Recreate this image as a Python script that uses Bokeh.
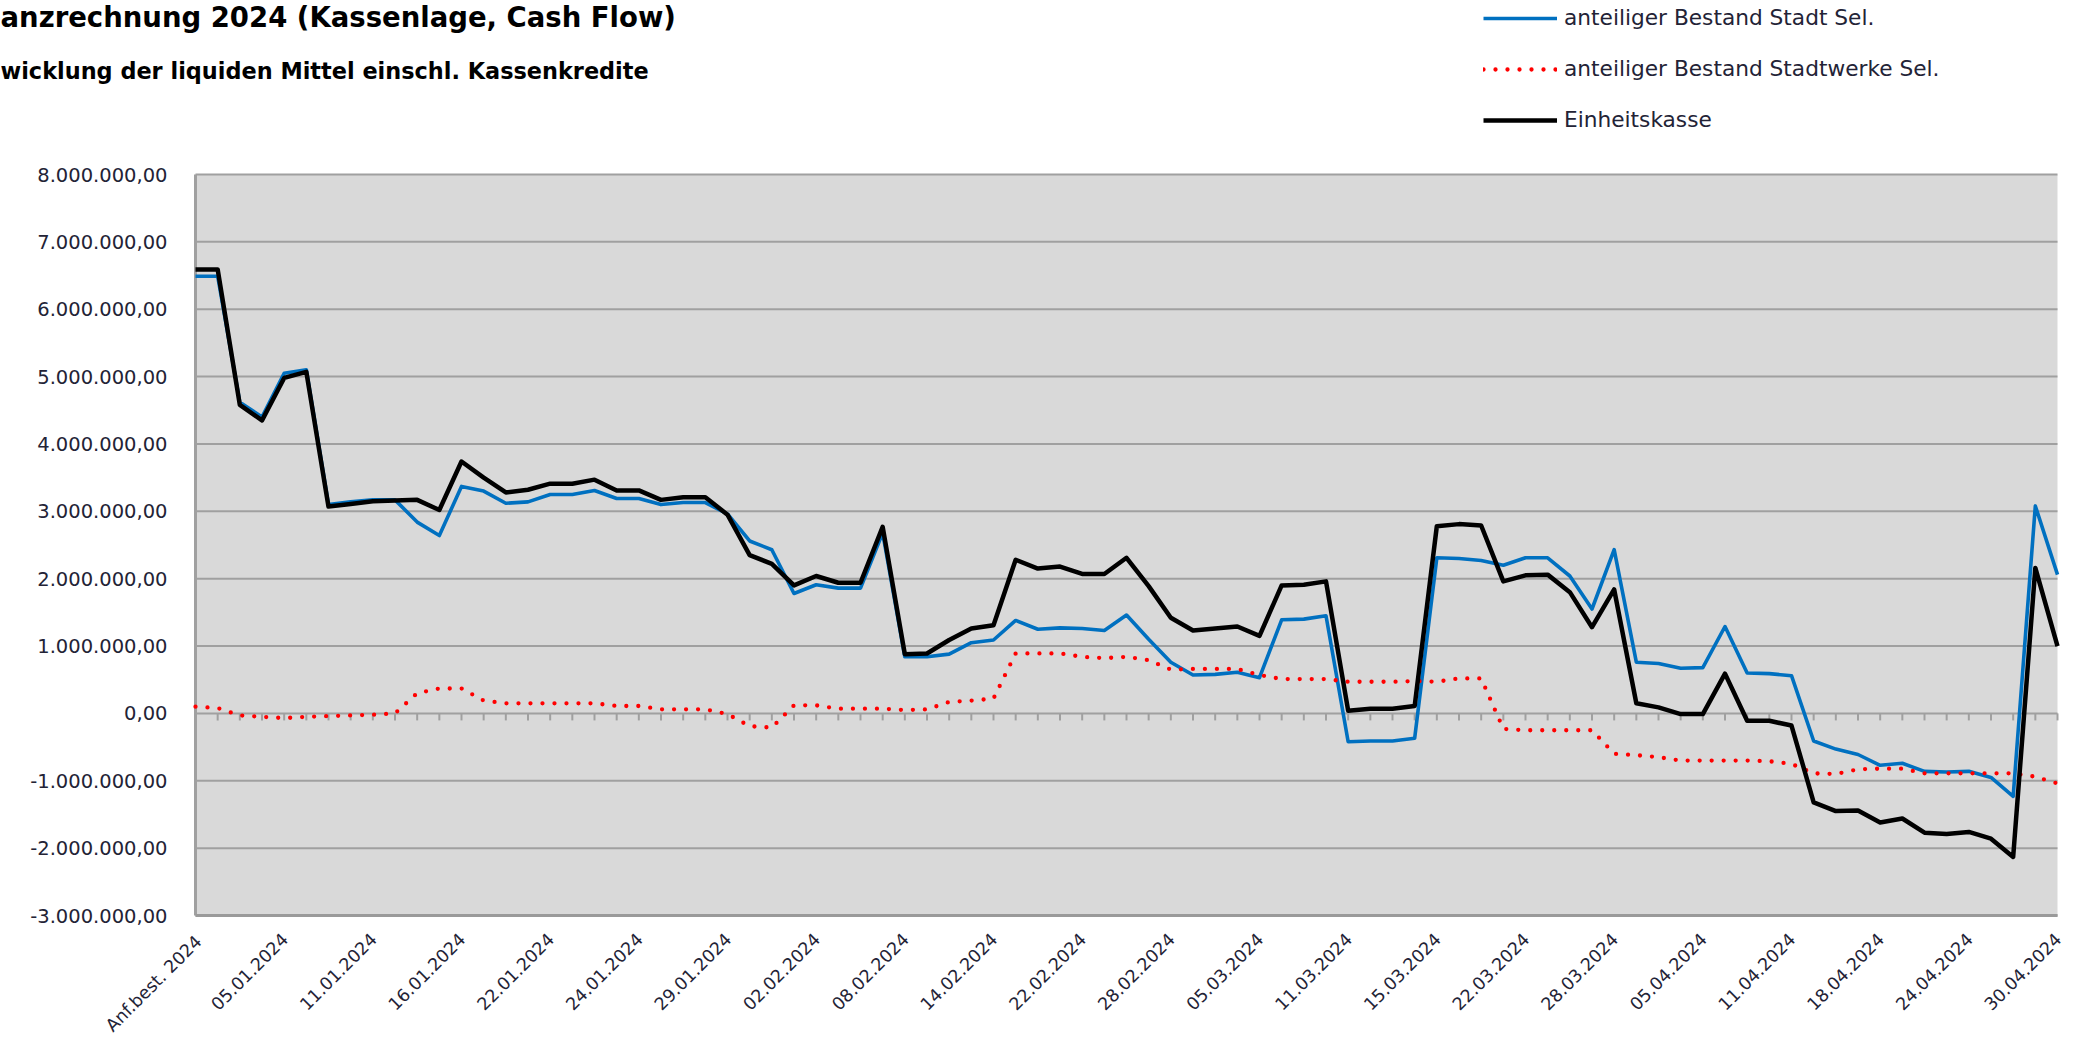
from math import pi
from bokeh.plotting import figure
from bokeh.models import ColumnDataSource, Range1d, Legend, LegendItem
from bokeh.core.properties import value
from bokeh.embed import file_html
from bokeh.resources import INLINE

# ---------------- data (values in Mio. EUR) ----------------
stadt_mio = [
    6.49, 6.49, 4.62, 4.40, 5.05, 5.10, 3.10, 3.14, 3.17, 3.17,
    2.84, 2.64, 3.37, 3.30, 3.12, 3.14, 3.25, 3.25, 3.31, 3.19,
    3.19, 3.10, 3.13, 3.13, 2.96, 2.56, 2.43, 1.78, 1.91, 1.86,
    1.86, 2.68, 0.84, 0.84, 0.88, 1.05, 1.09, 1.38, 1.25, 1.27,
    1.26, 1.23, 1.46, 1.10, 0.76, 0.57, 0.58, 0.61, 0.53, 1.39,
    1.40, 1.45, -0.42, -0.41, -0.41, -0.37, 2.31, 2.30, 2.27, 2.20,
    2.31, 2.31, 2.04, 1.55, 2.43, 0.76, 0.74, 0.67, 0.68, 1.29,
    0.60, 0.59, 0.56, -0.41, -0.53, -0.61, -0.77, -0.74, -0.86, -0.87,
    -0.86, -0.95, -1.23, 3.08, 2.06,
]
stadtwerke_mio = [
    0.10, 0.08, -0.03, -0.05, -0.07, -0.05, -0.04, -0.03, -0.02, 0.00,
    0.30, 0.37, 0.37, 0.19, 0.15, 0.15, 0.15, 0.15, 0.15, 0.11,
    0.11, 0.06, 0.06, 0.06, -0.01, -0.19, -0.21, 0.12, 0.12, 0.07,
    0.07, 0.07, 0.05, 0.06, 0.17, 0.19, 0.22, 0.89, 0.89, 0.89,
    0.84, 0.82, 0.84, 0.79, 0.65, 0.66, 0.66, 0.66, 0.57, 0.51,
    0.51, 0.51, 0.47, 0.47, 0.47, 0.48, 0.47, 0.52, 0.52, -0.23,
    -0.25, -0.25, -0.25, -0.25, -0.60, -0.62, -0.65, -0.70, -0.70, -0.70,
    -0.70, -0.71, -0.75, -0.89, -0.90, -0.83, -0.82, -0.82, -0.89, -0.89,
    -0.89, -0.89, -0.89, -0.94, -1.04,
]
einheitskasse_mio = [
    6.59, 6.59, 4.58, 4.35, 4.98, 5.07, 3.07, 3.11, 3.15, 3.16,
    3.17, 3.02, 3.74, 3.50, 3.28, 3.32, 3.41, 3.41, 3.47, 3.31,
    3.31, 3.17, 3.21, 3.21, 2.95, 2.35, 2.22, 1.90, 2.04, 1.94,
    1.94, 2.77, 0.88, 0.89, 1.09, 1.26, 1.31, 2.28, 2.15, 2.18,
    2.07, 2.07, 2.31, 1.89, 1.42, 1.23, 1.26, 1.29, 1.15, 1.90,
    1.91, 1.96, 0.04, 0.07, 0.07, 0.11, 2.78, 2.81, 2.79, 1.96,
    2.05, 2.06, 1.80, 1.28, 1.84, 0.15, 0.09, -0.01, -0.01, 0.59,
    -0.11, -0.11, -0.18, -1.32, -1.45, -1.44, -1.62, -1.56, -1.77, -1.79,
    -1.76, -1.86, -2.13, 2.16, 1.00,
]

x_tick_labels = [
    "Anf.best. 2024", "05.01.2024", "11.01.2024", "16.01.2024", "22.01.2024",
    "24.01.2024", "29.01.2024", "02.02.2024", "08.02.2024", "14.02.2024",
    "22.02.2024", "28.02.2024", "05.03.2024", "11.03.2024", "15.03.2024",
    "22.03.2024", "28.03.2024", "05.04.2024", "11.04.2024", "18.04.2024",
    "24.04.2024", "30.04.2024",
]
x_label_step = 4

y_ticks = [-3000000, -2000000, -1000000, 0, 1000000, 2000000, 3000000,
           4000000, 5000000, 6000000, 7000000, 8000000]
y_tick_labels = ["-3.000.000,00", "-2.000.000,00", "-1.000.000,00", "0,00",
                 "1.000.000,00", "2.000.000,00", "3.000.000,00", "4.000.000,00",
                 "5.000.000,00", "6.000.000,00", "7.000.000,00", "8.000.000,00"]

series_names = ["anteiliger Bestand Stadt Sel.",
                "anteiliger Bestand Stadtwerke Sel.",
                "Einheitskasse"]
series_colors = ["#0070C0", "#FF0000", "#000000"]

title_text = "anzrechnung 2024 (Kassenlage, Cash Flow)"
subtitle_text = "wicklung der liquiden Mittel einschl. Kassenkredite"

# ---------------- layout (pixels) ----------------
W, H = 2085, 1037
PLOT_L, PLOT_R, PLOT_T, PLOT_B = 195, 2057, 174, 915
FONT = "DejaVu Sans"
TXT = "#232336"
GRID = "#A0A0A0"

n = len(stadt_mio)
xs = list(range(n))
x_first, x_last = xs[0], xs[-1]
y_min, y_max = y_ticks[0], y_ticks[-1]

# ranges chosen so that the value area lands on the plot rectangle
ppx = (PLOT_R - PLOT_L) / (x_last - x_first)        # px per category step
ppy = (PLOT_B - PLOT_T) / (y_max - y_min)           # px per EUR
x_start = x_first - PLOT_L / ppx
x_end = x_last + (W - PLOT_R) / ppx
y_end = y_max + PLOT_T / ppy
y_start = y_min - (H - PLOT_B) / ppy


def at_px(px, py):
    """page pixel -> data coordinate (for header texts only)"""
    return x_start + px / ppx, y_end - py / ppy


p = figure(width=W, height=H, output_backend="svg", toolbar_location=None,
           x_range=Range1d(x_start, x_end), y_range=Range1d(y_start, y_end),
           title=None, x_axis_location=None, y_axis_location=None,
           min_border=0, outline_line_color=None,
           background_fill_color="white", border_fill_color="white")
p.grid.visible = False

# plot area
p.quad(left=[x_first], right=[x_last], bottom=[y_min], top=[y_max],
       fill_color="#D9D9D9", line_color=None)

# horizontal gridlines at the value ticks
p.segment(x0=[x_first] * len(y_ticks), x1=[x_last] * len(y_ticks),
          y0=y_ticks, y1=y_ticks, line_color=GRID, line_width=2)

# left and bottom border of the plot area
p.segment(x0=[x_first], x1=[x_first], y0=[y_min], y1=[y_max],
          line_color=GRID, line_width=3)
p.segment(x0=[x_first], x1=[x_last], y0=[y_min], y1=[y_min],
          line_color="#9A9A9A", line_width=3)

# category tick marks on the zero line (7 px long)
tick_len = 7 / ppy
p.segment(x0=xs, y0=[0] * n, x1=xs, y1=[-tick_len] * n,
          line_color=GRID, line_width=2)

# value axis labels
p.text(x=[x_first] * len(y_ticks), y=y_ticks, text=y_tick_labels,
       x_offset=-28, text_align="right", text_baseline="middle",
       text_font=value(FONT), text_font_size="19.5px", text_color=TXT)

# category axis labels (every 4th category), rotated 45 degrees
tick_pos = xs[::x_label_step]
p.text(x=tick_pos, y=[y_min] * len(tick_pos), text=x_tick_labels,
       x_offset=-4, y_offset=16, angle=pi / 4, text_align="right",
       text_baseline="top", text_font=value(FONT), text_font_size="17.5px",
       text_color=TXT)

# series
src = ColumnDataSource(dict(
    x=xs,
    stadt=[v * 1e6 for v in stadt_mio],
    werke=[v * 1e6 for v in stadtwerke_mio],
    kasse=[v * 1e6 for v in einheitskasse_mio],
))
line_styles = [dict(line_width=3.6, line_join="round"),
               dict(line_width=4.3, line_dash="0 12", line_cap="round"),
               dict(line_width=4.5, line_join="round")]
renderers = [p.line("x", col, source=src, line_color=c, **st)
             for col, c, st in zip(["stadt", "werke", "kasse"], series_colors, line_styles)]

# header texts
tx, ty = at_px(0, 16.5)
p.text(x=[tx], y=[ty], text=[title_text], text_font=value(FONT),
       text_font_style="bold", text_font_size="27.5px", text_baseline="alphabetic",
       text_align="left", text_color="black")
sx, sy = at_px(0, 70.5)
p.text(x=[sx], y=[sy], text=[subtitle_text], text_font=value(FONT),
       text_font_style="bold", text_font_size="22.4px", text_baseline="alphabetic",
       text_align="left", text_color="black")

# legend (top right)
legend = Legend(items=[LegendItem(label=nm, renderers=[r])
                       for nm, r in zip(series_names, renderers)],
                location=(1483, H - 132.5), orientation="vertical",
                background_fill_alpha=0, border_line_color=None, padding=0,
                margin=0, spacing=25, glyph_width=74, glyph_height=26,
                label_height=26, label_standoff=7, label_text_font=FONT,
                label_text_font_size="21.7px", label_text_color=TXT)
p.add_layout(legend)

open("out.html", "w").write(file_html(p, INLINE))
